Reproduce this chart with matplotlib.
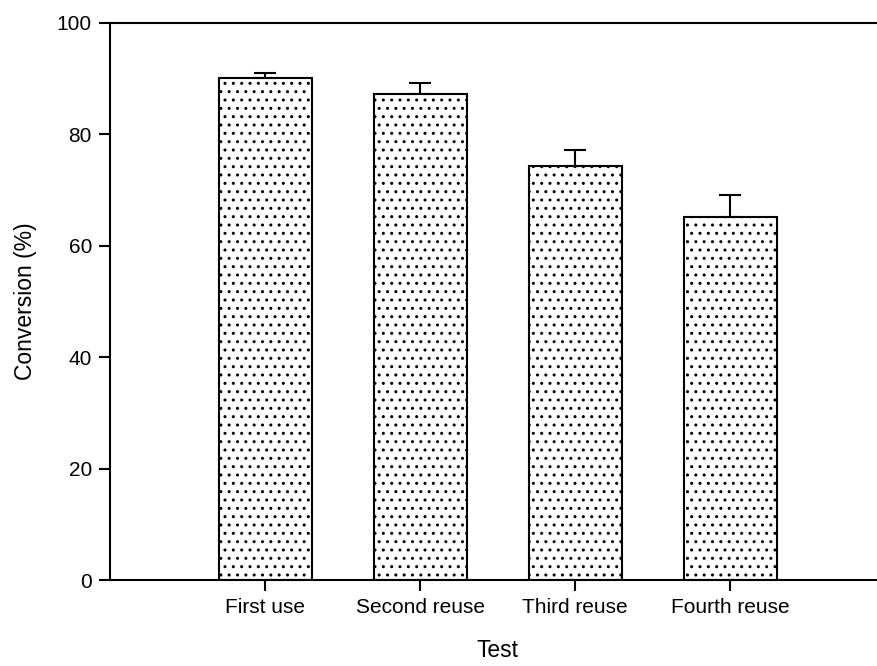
import matplotlib
matplotlib.use("Agg")
import matplotlib.pyplot as plt

plt.rcParams['font.family'] = ['Liberation Sans', 'DejaVu Sans']
plt.rcParams['hatch.linewidth'] = 1.0

tests = ['First use', 'Second reuse', 'Third reuse', 'Fourth reuse']
conversion = [90.2, 87.3, 74.3, 65.2]
conversion_err = [0.8, 2.0, 2.9, 4.0]

fig = plt.figure(figsize=(8.77, 6.66), dpi=100)
ax = fig.add_axes([110 / 877, 1 - 580 / 666, 775 / 877, 557 / 666])

x = range(1, len(tests) + 1)
ax.bar(x, conversion, width=0.6, color='white', edgecolor='black',
       linewidth=1.5, hatch='..', zorder=2)
ax.errorbar(x, conversion, yerr=[[0] * len(tests), conversion_err],
            fmt='none', ecolor='black', elinewidth=1.5, capsize=8,
            capthick=1.5, zorder=3)

ax.set_xlim(0, 5)
ax.set_ylim(0, 100)
ax.set_yticks([0, 20, 40, 60, 80, 100])
ax.set_xticks(list(x))
ax.set_xticklabels(tests)
ax.tick_params(axis='both', direction='out', length=8, width=1.5,
               labelsize=15, pad=5)

ax.spines['right'].set_visible(False)
for side in ['left', 'top', 'bottom']:
    ax.spines[side].set_linewidth(1.5)

ax.set_xlabel('Test', fontsize=16.5, labelpad=16)
ax.set_ylabel('Conversion (%)', fontsize=16.5, labelpad=14)

fig.savefig('out.png', dpi=100)
